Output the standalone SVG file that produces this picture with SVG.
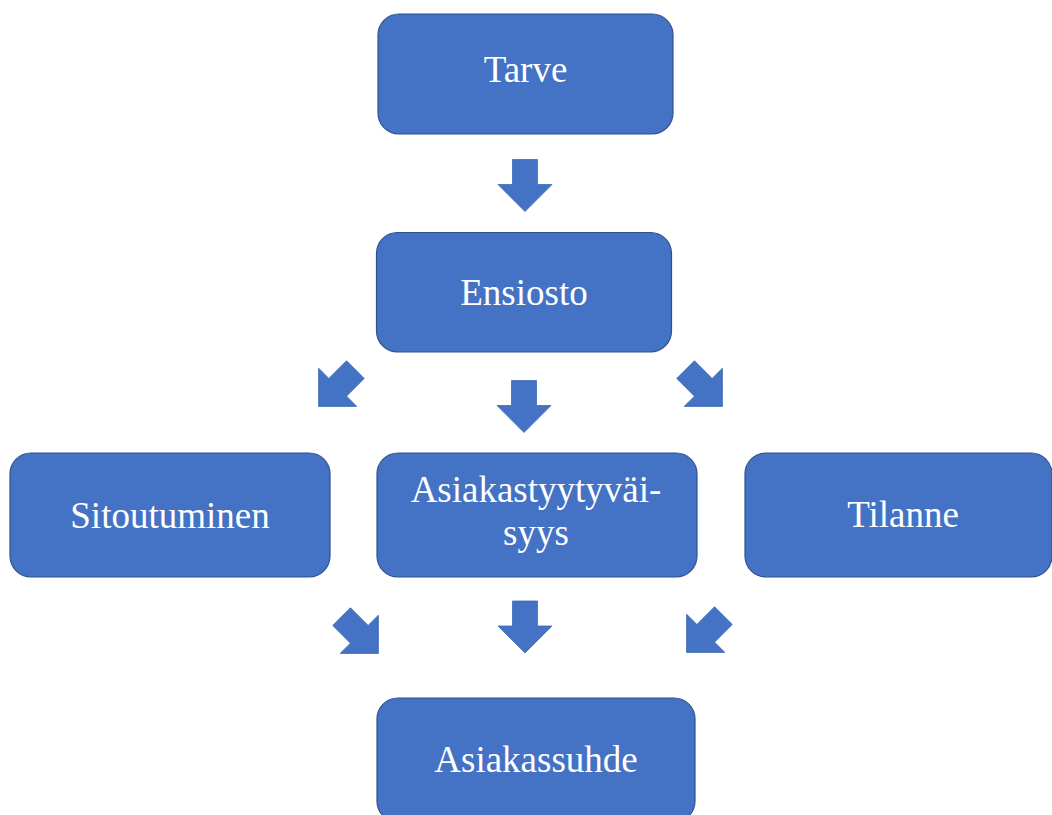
<svg xmlns="http://www.w3.org/2000/svg" width="1052" height="815" viewBox="0 0 1052 815">
<style>
.box{fill:#4472C4;stroke:#2F528F;stroke-width:1.2}
.lbl{font-family:"Liberation Serif","Times New Roman",serif;font-size:37px;fill:#FFFFFF;text-anchor:middle}
.arr{fill:#4472C4;stroke:#3F69B5;stroke-width:0.8}
</style>
<defs>
<path id="down" d="M-12.5,-26 H12.5 V-1 H27 L0,26 L-27,-1 H-12.5 Z"/>
</defs>
<rect width="1052" height="815" fill="#FFFFFF"/>
<g id="connectors">
<use href="#down" class="arr" transform="translate(525,185.5)"/>
<use href="#down" class="arr" transform="translate(524,406.5)"/>
<use href="#down" class="arr" transform="translate(337,388) rotate(45)"/>
<use href="#down" class="arr" transform="translate(704,388) rotate(-45)"/>
<use href="#down" class="arr" transform="translate(525,627)"/>
<use href="#down" class="arr" transform="translate(360,635) rotate(-45)"/>
<use href="#down" class="arr" transform="translate(705,634) rotate(45)"/>
</g>
<g id="tarve">
<rect class="box" x="378" y="14" width="295" height="120" rx="21"/>
<text class="lbl" x="525.5" y="82">Tarve</text>
</g>
<g id="ensiosto">
<rect class="box" x="376.5" y="232.5" width="295" height="119.5" rx="21"/>
<text class="lbl" x="524" y="305">Ensiosto</text>
</g>
<g id="sitoutuminen">
<rect class="box" x="10" y="453" width="320" height="124" rx="21"/>
<text class="lbl" x="170" y="528">Sitoutuminen</text>
</g>
<g id="asiakastyytyvaisyys">
<rect class="box" x="377" y="453" width="320" height="124" rx="21"/>
<text class="lbl" x="536" y="502">Asiakastyytyväi-</text>
<text class="lbl" x="536" y="545">syys</text>
</g>
<g id="tilanne">
<rect class="box" x="745" y="453" width="307" height="124" rx="21"/>
<text class="lbl" x="903" y="527">Tilanne</text>
</g>
<g id="asiakassuhde">
<rect class="box" x="377" y="698" width="318" height="124" rx="21"/>
<text class="lbl" x="536" y="772">Asiakassuhde</text>
</g>
</svg>
